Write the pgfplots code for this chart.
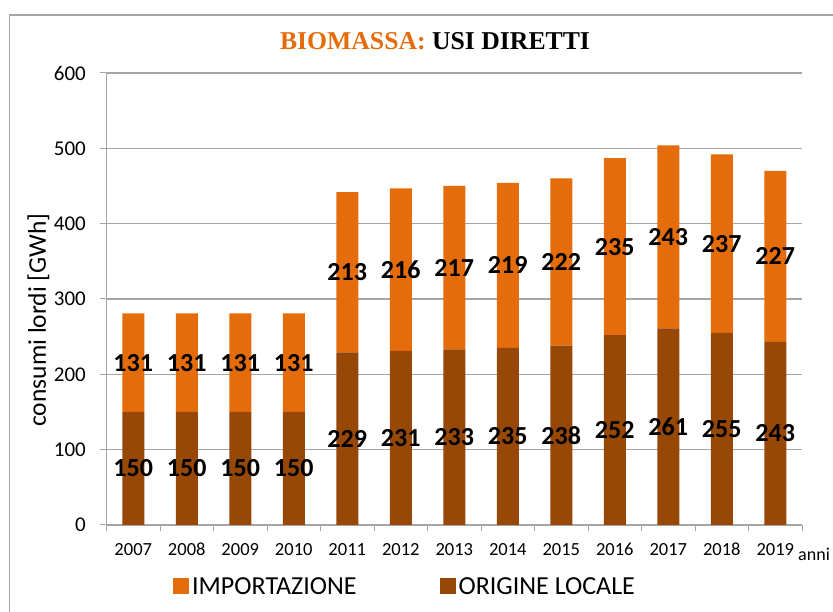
\documentclass[border=0pt]{standalone}
\usepackage{pgfplots}
\pgfplotsset{compat=1.18}
\usepackage{pgfplotstable}
\usepackage{fontspec}
\setmainfont{Carlito}
\newfontfamily\titlefont{Liberation Serif}
\definecolor{impc}{HTML}{E46C0A}
\definecolor{locc}{HTML}{974706}
\definecolor{gridc}{RGB}{165,165,165}
\definecolor{framec}{RGB}{165,165,165}

\pgfplotstableread{
x year loc imp
0 2007 150 131
1 2008 150 131
2 2009 150 131
3 2010 150 131
4 2011 229 213
5 2012 231 216
6 2013 233 217
7 2014 235 219
8 2015 238 222
9 2016 252 235
10 2017 261 243
11 2018 255 237
12 2019 243 227
}\datatable

\pgfplotsset{
  /pgf/number format/assume math mode=true,
  baseaxis/.style={
    at={(106.5pt,87pt)}, anchor=south west,
    scale only axis, width=695.5pt, height=452pt,
    xmin=-0.5, xmax=12.5, ymin=0, ymax=600,
  },
  sqlegend/.style={legend image code/.code={\fill[##1] (0pt,-8pt) rectangle (16pt,8pt);}},
}

\begin{document}
\begin{tikzpicture}[x=1pt,y=1pt]
\useasboundingbox (0,0) rectangle (833,612);
\draw[framec, line width=1.3pt] (9.3,0) -- (9.3,597) -- (833,597);
\begin{axis}[
  baseaxis,
  ybar stacked, bar width=22pt,
  ytick={0,100,...,600},
  xtick={0,...,12},
  xticklabels={2007,2008,2009,2010,2011,2012,2013,2014,2015,2016,2017,2018,2019},
  minor xtick={-0.5,0.5,...,12.5},
  tick align=outside,
  major tick length=6.5pt, minor tick length=6pt,
  every major x tick/.append style={draw=none},
  every minor x tick/.append style={gridc, line width=1pt},
  every major y tick/.append style={gridc, line width=1pt},
  ymajorgrids, grid style={gridc, line width=1.1pt},
  axis x line*=bottom, axis y line*=left,
  axis line style={gridc, line width=1.1pt},
  yticklabel style={font=\fontsize{21}{21}\selectfont, anchor=east, inner sep=0pt, xshift=-14pt},
  xticklabel style={font=\fontsize{18.5}{18.5}\selectfont, anchor=north, inner sep=0pt, yshift=-11.5pt},
  ylabel={consumi lordi [GWh]},
  ylabel style={font=\fontsize{25.5}{25.5}\selectfont, at={(rel axis cs:-0.0978,0.4535)}, anchor=center},
  legend columns=2, reverse legend,
  legend style={at={(0.0956,-0.136)}, anchor=west, draw=none, fill=none, inner sep=0pt, font=\fontsize{26}{26}\selectfont, nodes={inner sep=3pt, text depth=0pt}, /tikz/every even column/.append style={column sep=80pt}},
  legend cell align=left,
  clip=false,
]
\addplot[fill=locc, draw=none, sqlegend] table[x=x, y=loc] {\datatable};
\addlegendentry{ORIGINE LOCALE}
\addplot[fill=impc, draw=none, sqlegend] table[x=x, y=imp] {\datatable};
\addlegendentry{IMPORTAZIONE}
\node[anchor=base west, font=\fontsize{18}{18}\selectfont, inner sep=0pt, yshift=-36pt] at (rel axis cs:0.9943,0) {anni};
\end{axis}
\begin{axis}[baseaxis, hide axis, clip=false,
  nodes near coords, point meta=explicit,
  every node near coord/.append style={font=\bfseries\fontsize{26}{26}\selectfont, anchor=center, text=black, inner sep=0pt},
]
\addplot[draw=none, mark=none] table[x=x, y expr=\thisrow{loc}/2, meta=loc] {\datatable};
\addplot[draw=none, mark=none] table[x=x, y expr=\thisrow{loc}+\thisrow{imp}/2, meta=imp] {\datatable};
\end{axis}
\node[font=\titlefont\bfseries\fontsize{25.7}{25.7}\selectfont, inner sep=0pt] at (435,571.3) {\textcolor{impc}{BIOMASSA:} USI DIRETTI};
\end{tikzpicture}
\end{document}
